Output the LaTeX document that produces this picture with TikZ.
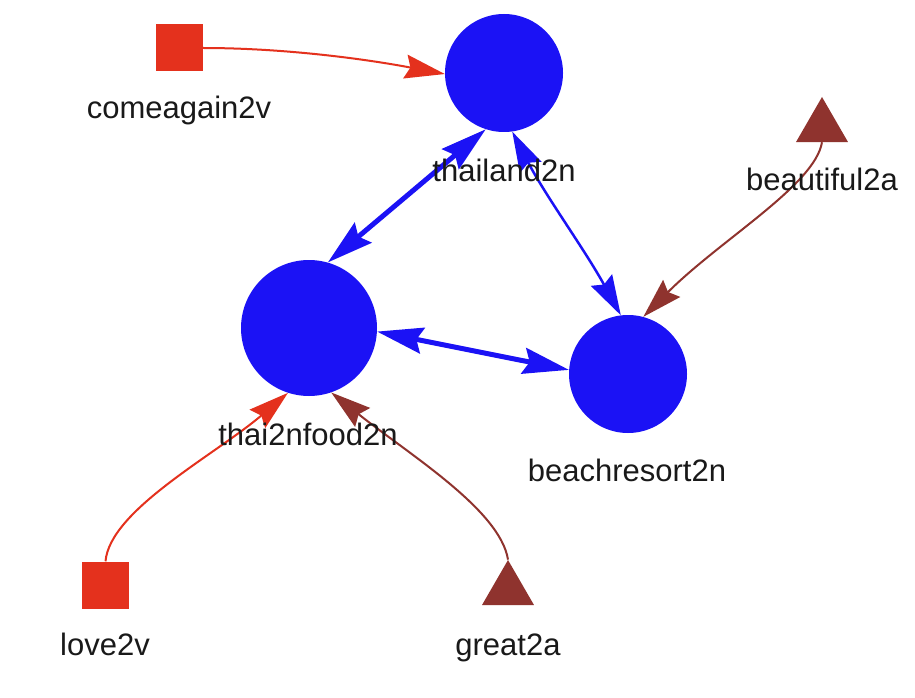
\documentclass[tikz,border=0pt]{standalone}
\usepackage{fontspec}
\setmainfont{Liberation Sans}
\usetikzlibrary{arrows.meta,shapes.geometric}
\definecolor{nblue}{RGB}{27,18,245}
\definecolor{nred}{RGB}{228,49,29}
\definecolor{nbrown}{RGB}{143,51,46}
\definecolor{ntext}{RGB}{25,25,25}
\tikzset{
  bigtip/.tip={Stealth[length=46pt,width=26pt,inset=6pt]},
  smalltip/.tip={Stealth[length=40pt,width=24pt,inset=5pt]},
}
\begin{document}
\begin{tikzpicture}[x=1pt,y=-1pt,
  hub/.style={circle, fill=nblue, inner sep=0pt},
  sq/.style={rectangle, fill=nred, minimum size=47pt, inner sep=0pt},
  tri/.style={regular polygon, regular polygon sides=3, fill=nbrown, minimum size=60pt, inner sep=0pt},
  lbl/.style={anchor=base, text=ntext, font=\fontsize{31}{37}\selectfont, inner sep=0pt},
  blueedge/.style={draw=nblue},
  rededge/.style={draw=nred, line width=2pt},
  brownedge/.style={draw=nbrown, line width=2pt},
]
\fill[white] (0,0) rectangle (915,698);
\useasboundingbox (0,0) rectangle (915,698);

% nodes
\node[sq] (c) at (179.5,48) {};
\node[hub, minimum size=118pt] (t) at (504,73) {};
\node[tri] (bt) at (822,127) {};
\node[hub, minimum size=136pt] (f) at (309,328) {};
\node[hub, minimum size=118pt] (b) at (628,374) {};
\node[sq] (l) at (105.5,585) {};
\node[tri] (g) at (508,590) {};

% connectors
\draw[blueedge, line width=5pt, bigtip-bigtip] (t.-108) -- (f.74);
\draw[blueedge, line width=2.5pt, smalltip-smalltip] (t.-82) .. controls (545,195) and (585,250) .. (b.97);
\draw[blueedge, line width=5pt, bigtip-bigtip] (f.-3) -- (b.176);
\draw[rededge, -smalltip] (c.east) .. controls (280,48) and (360,58) .. (t.181);
\draw[brownedge, -smalltip] (bt.south) .. controls (815,185) and (720,240) .. (b.75);
\draw[rededge, -smalltip] (l.north) .. controls (110,510) and (215,455) .. (f.-108);
\draw[brownedge, -smalltip] (g.corner 1) .. controls (500,510) and (410,455) .. (f.-71);

% labels
\node[lbl] (cL) at (179,118) {comeagain2v};
\node[lbl] (tL) at (504,181) {thailand2n};
\node[lbl] (btL) at (822,190) {beautiful2a};
\node[lbl] (fL) at (308,445) {thai2nfood2n};
\node[lbl] (bL) at (627,481) {beachresort2n};
\node[lbl] (lL) at (105,655) {love2v};
\node[lbl] (gL) at (508,655) {great2a};
\end{tikzpicture}
\end{document}
